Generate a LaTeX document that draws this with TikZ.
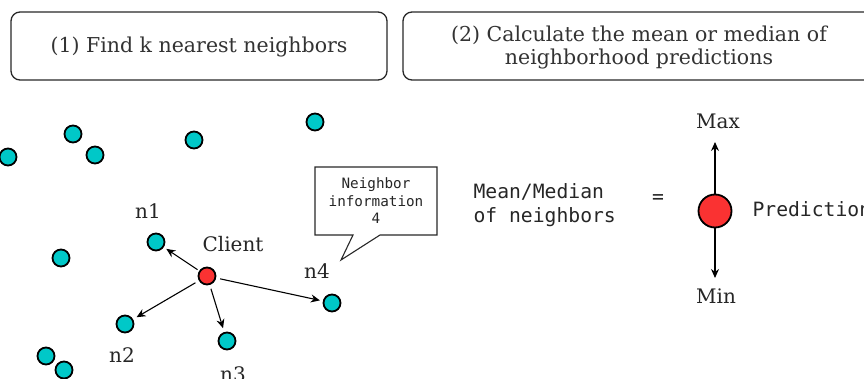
\documentclass[tikz,border=0pt]{standalone}
\usepackage{fontspec}
\setmainfont{DejaVu Serif}
\setmonofont{DejaVu Sans Mono}
\usetikzlibrary{arrows.meta}
\definecolor{dotcyan}{RGB}{0,200,200}
\definecolor{dotred}{RGB}{250,50,50}
\definecolor{boxline}{RGB}{40,40,40}
\begin{document}
\begin{tikzpicture}[x=1pt,y=-1pt,
  headbox/.style={draw=boxline,line width=1.3pt,rounded corners=9pt,fill=white},
  headtxt/.style={font=\fontsize{20.5}{23}\selectfont,align=center,text=black!80},
  dot/.style={circle,draw=black,line width=1.8pt,fill=dotcyan,minimum size=17pt,inner sep=0pt},
  client/.style={circle,draw=black,line width=1.8pt,fill=dotred,minimum size=17pt,inner sep=0pt},
  lbl/.style={font=\fontsize{20}{23}\selectfont,text=black!85},
  mono/.style={font=\ttfamily\fontsize{19.7}{24}\selectfont,text=black!85,align=left},
  arr/.style={-{Stealth[length=9pt,width=8pt]},line width=1.1pt}
]
\useasboundingbox (0,0) rectangle (864,379);
% heading boxes
\draw[headbox] (11,12) rectangle (387,80);
\node[headtxt] (h1) at (199,47) {(1) Find k nearest neighbors};
\draw[headbox] (403,12) rectangle (880,80);
\node[headtxt] (h2) at (639,47) {(2) Calculate the mean or median of\\neighborhood predictions};
% scattered points
\node[dot] (p1) at (8,157) {};
\node[dot] (p2) at (73,134) {};
\node[dot] (p3) at (95,155) {};
\node[dot] (p4) at (194,140) {};
\node[dot] (p5) at (315,122) {};
\node[dot] (p6) at (61,258) {};
\node[dot] (p7) at (46,356) {};
\node[dot] (p8) at (64,370) {};
% neighbors
\node[dot] (n1) at (156,242) {};
\node[dot] (n2) at (125,324) {};
\node[dot] (n3) at (227,341) {};
\node[dot] (n4) at (332,303) {};
\node[client] (c) at (207,276) {};
\node[lbl] (ln1) at (148,211) {n1};
\node[lbl] (ln2) at (122,355) {n2};
\node[lbl] (ln3) at (233,374) {n3};
\node[lbl] (ln4) at (317,271) {n4};
\node[lbl] (lc) at (233,244) {Client};
\draw[arr,shorten <=2pt,shorten >=3pt] (c) -- (n1);
\draw[arr,shorten <=4pt,shorten >=4pt] (c) -- (n2);
\draw[arr,shorten <=4pt,shorten >=4pt] (c) -- (n3);
\draw[arr,shorten <=4pt,shorten >=3pt] (c) -- (n4);
% callout
\coordinate (tip) at (341,260);
\draw[line width=1.1pt,draw=boxline,fill=white] (315,167) -- (437,167) -- (437,235) -- (380,235) -- (tip) -- (353,235) -- (315,235) -- cycle;
\node[font=\ttfamily\fontsize{14.3}{17.5}\selectfont,align=center,text=black!85] (info) at (376,201) {Neighbor\\information\\4};
% right side
\node[mono,anchor=west] (mm) at (470,205) {Mean/Median\\of neighbors};
\node[mono] (eq) at (658,199) {=};
\node[circle,draw=black,line width=1.8pt,fill=dotred,minimum size=33pt,inner sep=0pt] (pred) at (715,211) {};
\node[lbl] (max) at (718,121) {Max};
\node[lbl] (min) at (716,296) {Min};
\node[mono,anchor=west] (pl) at (749,209) {Prediction};
\draw[arr] (pred) -- (715,142);
\draw[arr] (pred) -- (715,278);
\end{tikzpicture}
\end{document}
